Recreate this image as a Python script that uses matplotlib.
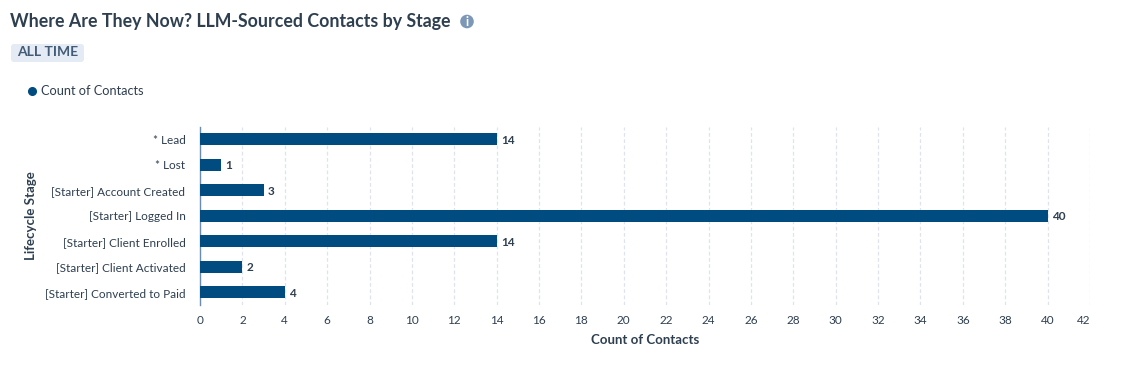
import matplotlib
matplotlib.use("Agg")
from matplotlib import pyplot as plt
from matplotlib.lines import Line2D
from matplotlib.patches import Circle, FancyBboxPatch
import numpy as np

plt.rcParams['font.family'] = ['Lato', 'DejaVu Sans']

stages = ["* Lead", "* Lost", "[Starter] Account Created", "[Starter] Logged In",
          "[Starter] Client Enrolled", "[Starter] Client Activated", "[Starter] Converted to Paid"]
contacts = [14, 1, 3, 40, 14, 2, 4]
xticks = list(range(0, 43, 2))

W, H = 1148, 373
BLUE = '#004b80'
DARK = '#2e3f50'
GRID = '#dfe3eb'

fig = plt.figure(figsize=(W/100, H/100), dpi=100)

# chart area, in pixels of the image
left, right, top, bottom = 200, 1090, 126.5, 305
ax = fig.add_axes([left/W, 1-bottom/H, (right-left)/W, (bottom-top)/H])

yy = np.arange(len(stages))
ax.barh(yy, contacts, height=0.47, color=BLUE, zorder=3)
for y, v in zip(yy, contacts):
    ax.annotate(str(v), (v, y), xytext=(3, 0), textcoords='offset points', va='center_baseline',
                fontsize=8.5, fontweight='bold', color=DARK)

ax.set_xlim(0, 42)
ax.set_ylim(len(stages)-0.5, -0.5)
ax.set_yticks(yy, stages)
ax.set_xticks(xticks)
ax.xaxis.grid(True, color=GRID, linestyle=(0, (3, 2)), linewidth=0.9, zorder=0)
ax.set_axisbelow(True)
for s in ['top', 'right', 'bottom']:
    ax.spines[s].set_visible(False)
ax.spines['left'].set_color('#6a8cb0')
ax.spines['left'].set_linewidth(1)
ax.tick_params(axis='both', length=0, labelsize=8.5, labelcolor=DARK)
ax.tick_params(axis='x', pad=7)
ax.tick_params(axis='y', pad=10.5)
ax.get_xticklabels()[-1].set_ha('right')
ax.set_xlabel("Count of Contacts", fontsize=9.5, fontweight='bold', color=DARK, labelpad=6)
ax.set_ylabel("Lifecycle Stage", fontsize=9.5, fontweight='bold', color=DARK)
ax.yaxis.set_label_coords((37-left)/(right-left), 0.5)

# header drawn on an overlay in pixel coordinates
ov = fig.add_axes([0, 0, 1, 1])
ov.set_xlim(0, W)
ov.set_ylim(H, 0)
ov.axis('off')
ov.text(10, 22, "Where Are They Now? LLM-Sourced Contacts by Stage", fontsize=12.8, fontweight='bold',
        color=DARK, va='center')
ov.add_patch(Circle((467, 21.5), 6.8, color='#7c98b6', lw=0))
ov.text(467, 21.5, "i", fontsize=9, fontweight='bold', color='white', ha='center', va='center')
ov.add_patch(FancyBboxPatch((11, 44), 73, 18, boxstyle="round,pad=0,rounding_size=3",
                            fc='#e5ebf4', ec='none'))
ov.text(47.5, 52, "ALL TIME", fontsize=10, fontweight='bold', color='#425b76', ha='center', va='center')

handle = Line2D([], [], marker='o', color=BLUE, linestyle='none', markersize=5.5, label="Count of Contacts")
ov.legend(handles=[handle], loc='center left', bbox_to_anchor=(26/W, 1-91/H), frameon=False, fontsize=9.2,
          labelcolor=DARK, handlelength=1, handletextpad=0.2, borderpad=0, borderaxespad=0)

fig.savefig("out.png", dpi=100)
